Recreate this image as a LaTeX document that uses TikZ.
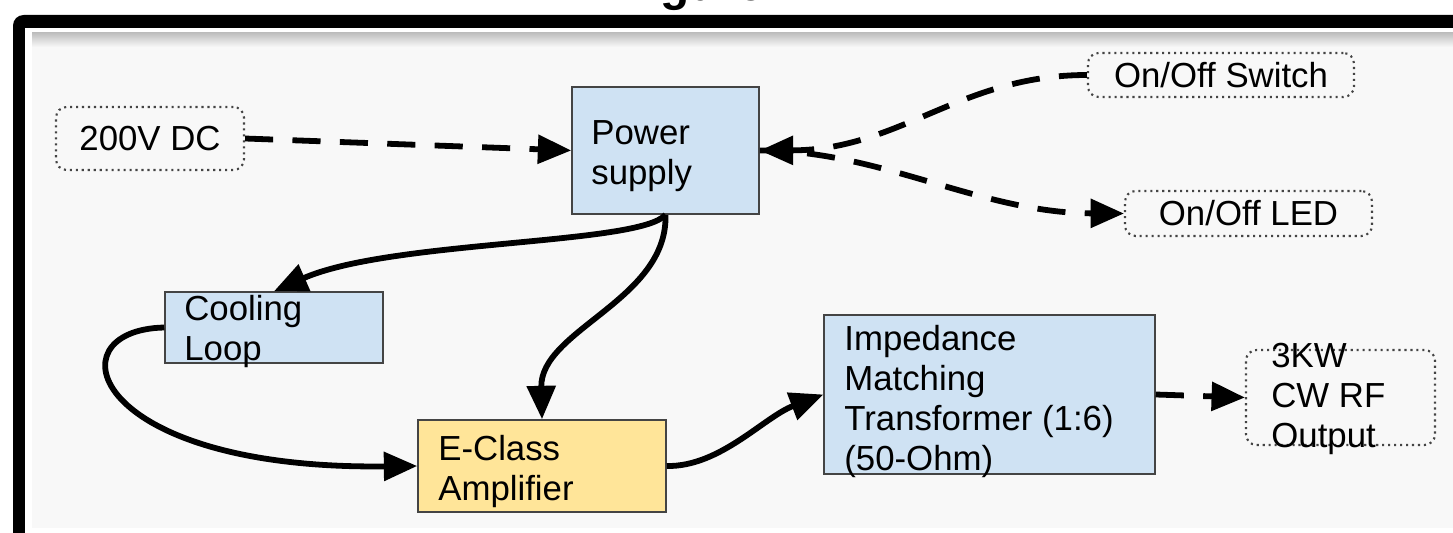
\documentclass[tikz,border=0pt]{standalone}
\usepackage{fontspec}
\setmainfont{Liberation Sans}
\usetikzlibrary{arrows.meta,calc}
\definecolor{bgray}{HTML}{F8F8F8}
\definecolor{boxblue}{HTML}{CFE2F3}
\definecolor{boxyellow}{HTML}{FFE599}
\definecolor{boxedge}{HTML}{444444}
\definecolor{dotedge}{HTML}{444444}
\begin{document}
\begin{tikzpicture}[x=0.02cm,y=-0.02cm,
  lbl/.style={font=\fontsize{19.8}{22.7}\selectfont, text=black},
  solidbox/.style={draw=boxedge, line width=0.9pt, inner sep=0pt},
  dotbox/.style={draw=dotedge, line width=1.2pt, dash pattern=on 1.2pt off 2.2pt, rounded corners=6pt, inner sep=0pt, lbl},
  boxtext/.style={lbl, align=left, anchor=north west, inner sep=0pt},
  conn/.style={line width=3.3pt, -{Triangle[length=19pt,width=16pt]}},
  dconn/.style={conn, dash pattern=on 16pt off 11pt},
]
\useasboundingbox (0,0) rectangle (1453,533);
\clip (0,0) rectangle (1453,533);
\fill[white] (0,0) rectangle (1453,533);
\fill[black, rounded corners=6pt] (13,15) rectangle (1480,560);
\fill[white] (25,28) rectangle (1480,560);
\fill[bgray] (32,33) rectangle (1480,528);
\shade[top color=black!25, bottom color=bgray] (32,33) rectangle (1480,47);
\node[font=\bfseries\fontsize{27.2}{30}\selectfont, anchor=base, inner sep=0pt] (title) at (711,0.5) {Figure 1};

% nodes
\node[dotbox, minimum width=3.76cm, minimum height=1.26cm] (dc) at (150,138.5) {200V DC};
\node[dotbox, minimum width=5.32cm, minimum height=0.88cm] (sw) at (1221,75) {On/Off Switch};
\node[dotbox, minimum width=4.94cm, minimum height=0.9cm] (led) at (1248.5,213.5) {On/Off LED};
\node[dotbox, minimum width=3.78cm, minimum height=1.9cm] (rf) at (1340.5,397.5) {};
\node[boxtext] (rft) at (1271,343) {3KW\\CW RF\\Output};

\node[solidbox, fill=boxblue, minimum width=3.74cm, minimum height=2.54cm] (ps) at (665.5,150.5) {};
\node[boxtext] (pst) at (591,120) {Power\\supply};

\node[solidbox, fill=boxblue, minimum width=4.36cm, minimum height=1.42cm] (cool) at (274,327.5) {};
\node[boxtext] (coolt) at (184,295) {Cooling\\Loop};

\node[solidbox, fill=boxyellow, minimum width=4.96cm, minimum height=1.84cm] (ec) at (542,466) {};
\node[boxtext] (ect) at (438,435) {E-Class\\Amplifier};

\node[solidbox, fill=boxblue, minimum width=6.62cm, minimum height=3.18cm] (imp) at (989.5,394.5) {};
\node[boxtext] (impt) at (844,325) {Impedance\\Matching\\Transformer (1:6)\\(50-Ohm)};

% connectors
\draw[dconn] (dc.east) -- (ps.west);
\draw[dconn] (sw.west) .. controls (960,75) and (900,150) .. (ps.east);
\draw[dconn] (ps.east) .. controls (880,150) and (980,213) .. (led.west);
\draw[conn] (ps.south) .. controls (640,245) and (390,240) .. (cool.north);
\draw[conn] (ps.south) .. controls (668,300) and (540,330) .. (ec.north);
\draw[conn] (cool.west) .. controls (50,330) and (90,470) .. (ec.west);
\draw[conn] (ec.east) .. controls (720,467) and (764,417) .. (imp.west);
\draw[dconn] (imp.east) -- (rf.west);
\end{tikzpicture}
\end{document}
